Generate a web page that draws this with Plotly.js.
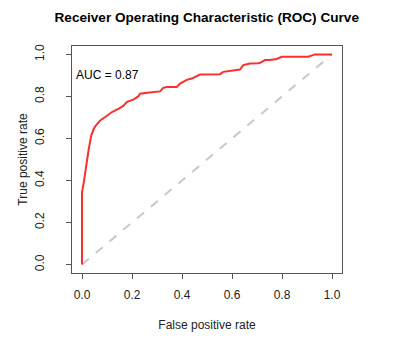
<!DOCTYPE html>
<html>
<head>
<meta charset="utf-8">
<script src="https://cdn.plot.ly/plotly-3.0.1.min.js"></script>
<style>html,body{margin:0;padding:0;background:#fff}#chart{width:403px;height:350px}</style>
</head>
<body>
<div id="chart"></div>
<script>
// ROC curve points
const fpr = [0, 0, 0.007, 0.013, 0.02, 0.027, 0.037, 0.047, 0.056, 0.073,
             0.093, 0.12, 0.147, 0.165, 0.18, 0.193, 0.205, 0.225, 0.232, 0.26,
             0.299, 0.312, 0.325, 0.339, 0.379, 0.392, 0.419, 0.439, 0.472, 0.552,
             0.565, 0.599, 0.632, 0.645, 0.672, 0.705, 0.712, 0.732, 0.752, 0.779,
             0.799, 0.905, 0.932, 1.0];
const tpr = [0, 0.344, 0.39, 0.446, 0.494, 0.55, 0.614, 0.646, 0.662, 0.686,
             0.702, 0.726, 0.742, 0.755, 0.774, 0.781, 0.785, 0.80, 0.813, 0.818,
             0.821, 0.824, 0.841, 0.845, 0.845, 0.861, 0.879, 0.885, 0.904, 0.906,
             0.917, 0.921, 0.928, 0.949, 0.957, 0.958, 0.960, 0.973, 0.973, 0.978,
             0.989, 0.989, 1.0, 1.0];
const diagX = [0, 1];
const diagY = [0, 1];
const tickVals = [0, 0.2, 0.4, 0.6, 0.8, 1.0];
const tickText = ["0.0", "0.2", "0.4", "0.6", "0.8", "1.0"];
const aucLabel = "AUC = 0.87";

const font = "Liberation Sans, Arial, Helvetica, sans-serif";
const axisCommon = {
  range: [-0.04, 1.04],
  tickvals: tickVals,
  ticktext: tickText,
  ticks: "outside",
  ticklen: 5,
  tickcolor: "#555",
  showline: true,
  mirror: true,
  linecolor: "#555",
  linewidth: 1,
  showgrid: false,
  zeroline: false,
  automargin: false,
  tickfont: {family: font, size: 12, color: "#222"}
};

const traces = [
  {x: diagX, y: diagY, mode: "lines", line: {color: "#c8c8c8", width: 2, dash: "dash"}, hoverinfo: "skip"},
  {x: fpr, y: tpr, mode: "lines", line: {color: "#ff2e2e", width: 2}, hoverinfo: "skip"}
];

const layout = {
  width: 403, height: 350,
  margin: {l: 72, r: 61, t: 46, b: 77},
  paper_bgcolor: "#fff", plot_bgcolor: "#fff",
  showlegend: false,
  title: {text: "<b>Receiver Operating Characteristic (ROC) Curve</b>", font: {family: font, size: 13.6, color: "#000"},
          x: 0.513, xanchor: "center", y: 0.951, yanchor: "middle"},
  xaxis: Object.assign({}, axisCommon, {
    ticklabelstandoff: 6,
    title: {text: "False positive rate", font: {family: font, size: 12, color: "#222"}, standoff: 19}
  }),
  yaxis: Object.assign({}, axisCommon, {
    tickangle: -90,
    ticklabelstandoff: 17,
    title: {text: "True positive rate", font: {family: font, size: 12, color: "#222"}, standoff: 3}
  }),
  annotations: [{
    x: -0.032, y: 0.904, xref: "x", yref: "y", text: aucLabel, showarrow: false,
    xanchor: "left", yanchor: "middle", font: {family: font, size: 12, color: "#000"}
  }]
};

Plotly.newPlot("chart", traces, layout, {staticPlot: true, displayModeBar: false});
</script>
</body>
</html>
